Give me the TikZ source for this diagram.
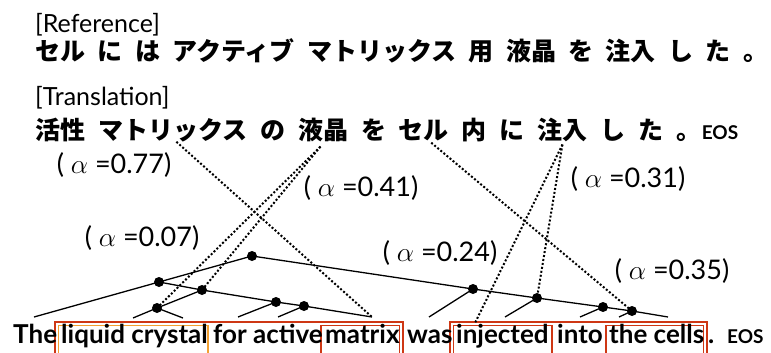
\documentclass[tikz,border=0pt]{standalone}
\usepackage{fontspec}
\setmainfont{Lato}
\newfontfamily\jpfont{Noto Sans CJK JP}
\definecolor{boxred}{RGB}{206,55,20}
\definecolor{boxorange}{RGB}{242,160,50}
\newcommand{\alp}{\scalebox{1.1}{$\alpha$}}
\begin{document}
\begin{tikzpicture}[x=1pt,y=-1pt,
  jpw/.style={font=\jpfont\bfseries\fontsize{25pt}{30pt}\selectfont, inner sep=0pt, anchor=base west},
  head/.style={font=\fontsize{25pt}{30pt}\selectfont, inner sep=0pt, anchor=base west},
  eos/.style={font=\bfseries\fontsize{19pt}{22pt}\selectfont, inner sep=0pt, anchor=base west},
  enw/.style={font=\bfseries\fontsize{26pt}{30pt}\selectfont, inner sep=0pt, anchor=base west},
  alab/.style={font=\fontsize{27pt}{32pt}\selectfont, inner sep=0pt},
  dot/.style={circle, fill=black, inner sep=0pt, minimum size=10pt},
  tree/.style={line width=1.3pt},
  attn/.style={line width=2pt, dash pattern=on 2pt off 2pt},
  rbox/.style={draw=boxred, line width=1.8pt},
  obox/.style={draw=boxorange, line width=1.8pt},
]
\useasboundingbox (0,0) rectangle (771,353);
\clip (0,0) rectangle (771,353);

% headers
\node[head] (refh) at (35,33) {[Reference]};
\node[head] (trh) at (35,106) {[Translation]};

% reference line
\node[jpw] (r1) at (35,60) {セル};
\node[jpw] (r2) at ([xshift=12pt]r1.base east) {に};
\node[jpw] (r3) at ([xshift=12pt]r2.base east) {は};
\node[jpw] (r4) at ([xshift=12pt]r3.base east) {アクティブ};
\node[jpw] (r5) at ([xshift=12pt]r4.base east) {マトリックス};
\node[jpw] (r6) at ([xshift=12pt]r5.base east) {用};
\node[jpw] (r7) at ([xshift=12pt]r6.base east) {液晶};
\node[jpw] (r8) at ([xshift=12pt]r7.base east) {を};
\node[jpw] (r9) at ([xshift=12pt]r8.base east) {注入};
\node[jpw] (r10) at ([xshift=12pt]r9.base east) {し};
\node[jpw] (r11) at ([xshift=12pt]r10.base east) {た};
\node[jpw] (r12) at ([xshift=12pt]r11.base east) {。};

% translation line
\node[jpw] (t1) at (35,139) {活性};
\node[jpw] (t2) at ([xshift=12.5pt]t1.base east) {マトリックス};
\node[jpw] (t3) at ([xshift=12.5pt]t2.base east) {の};
\node[jpw] (t4) at ([xshift=12.5pt]t3.base east) {液晶};
\node[jpw] (t5) at ([xshift=12.5pt]t4.base east) {を};
\node[jpw] (t6) at ([xshift=12.5pt]t5.base east) {セル};
\node[jpw] (t7) at ([xshift=12.5pt]t6.base east) {内};
\node[jpw] (t8) at ([xshift=12.5pt]t7.base east) {に};
\node[jpw] (t9) at ([xshift=12.5pt]t8.base east) {注入};
\node[jpw] (t10) at ([xshift=12.5pt]t9.base east) {し};
\node[jpw] (t11) at ([xshift=12.5pt]t10.base east) {た};
\node[jpw] (t12) at ([xshift=12.5pt]t11.base east) {。};
\node[eos] (t13) at (t12.base east) {EOS};

% alignment weights
\node[alab] (a1) at (114,165) {(\ \alp\ =0.77)};
\node[alab] (a2) at (361,188) {(\ \alp\ =0.41)};
\node[alab] (a3) at (628,179) {(\ \alp\ =0.31)};
\node[alab] (a4) at (142,238) {(\ \alp\ =0.07)};
\node[alab] (a5) at (440,253) {(\ \alp\ =0.24)};
\node[alab] (a6) at (672,271) {(\ \alp\ =0.35)};

% boxes
\draw[rbox] (55,360) |- (403,322) -- (403,360);
\draw[obox] (58.5,360) |- (208,325.5) -- (208,360);
\draw[rbox] (321,360) |- (399.5,325.5) -- (399.5,360);
\draw[rbox] (450,360) |- (707,322) -- (707,360);
\draw[rbox] (453.5,360) |- (552,325.5) -- (552,360);
\draw[rbox] (606,360) |- (703.5,325.5) -- (703.5,360);

% source sentence
\node[enw] (w1) at (13,343) {The};
\node[enw] (w2) at (61,343) {liquid crystal};
\node[enw] (w3) at (213,343) {for active};
\node[enw] (w4) at (325,343) {matrix};
\node[enw] (w5) at (407,343) {was};
\node[enw] (w6) at (456,343) {injected};
\node[enw] (w7) at (557,343) {into};
\node[enw] (w8) at (609,343) {the cells};
\node[enw] (w9) at (708,343) {.};
\node[eos] (w10) at (727,343) {EOS};

% tree
\node[dot] (A) at (252,256) {};
\node[dot] (B) at (159,282) {};
\node[dot] (C) at (202,290) {};
\node[dot] (D) at (157,308) {};
\node[dot] (E) at (276,302) {};
\node[dot] (F) at (304,306) {};
\node[dot] (G) at (473,289) {};
\node[dot] (H) at (537,298) {};
\node[dot] (I) at (603,307) {};
\node[dot] (J) at (632,311) {};
\coordinate (l0) at (34,317);
\coordinate (l1) at (133,318);
\coordinate (l2) at (183,318);
\coordinate (l3) at (238,317);
\coordinate (l4) at (278,317);
\coordinate (l5) at (372,317);
\coordinate (l6) at (429,317);
\coordinate (l7) at (505,317);
\coordinate (l8) at (580,317);
\coordinate (l9) at (619,317);
\coordinate (l10) at (668,317);

\draw[tree] (l0) -- (B.center) -- (A.center) -- (G.center) -- (H.center) -- (I.center) -- (J.center) -- (l10);
\draw[tree] (B.center) -- (C.center) -- (E.center) -- (F.center) -- (l5);
\draw[tree] (l1) -- (D.center) -- (C.center);
\draw[tree] (D.center) -- (l2);
\draw[tree] (l3) -- (E.center);
\draw[tree] (l4) -- (F.center);
\draw[tree] (l6) -- (G.center);
\draw[tree] (l7) -- (H.center);
\draw[tree] (l8) -- (I.center);
\draw[tree] (l9) -- (J.center);

% attention links
\coordinate (pM) at ([xshift=78.5pt]t2.south west);
\coordinate (pL) at ([xshift=22.5pt,yshift=-5pt]t4.south west);
\coordinate (pS) at ([xshift=32.5pt,yshift=-2pt]t6.south west);
\coordinate (pI) at ([xshift=25pt,yshift=-3pt]t9.south west);
\coordinate (injTop) at (475,323);
\draw[attn] (pM) -- (l5);
\draw[attn] (pL) -- (D.center);
\draw[attn] (pL) -- (C.center);
\draw[attn] (pS) -- (J.center);
\draw[attn] (pI) -- (H.center);
\draw[attn] (pI) -- (injTop);
\end{tikzpicture}
\end{document}
